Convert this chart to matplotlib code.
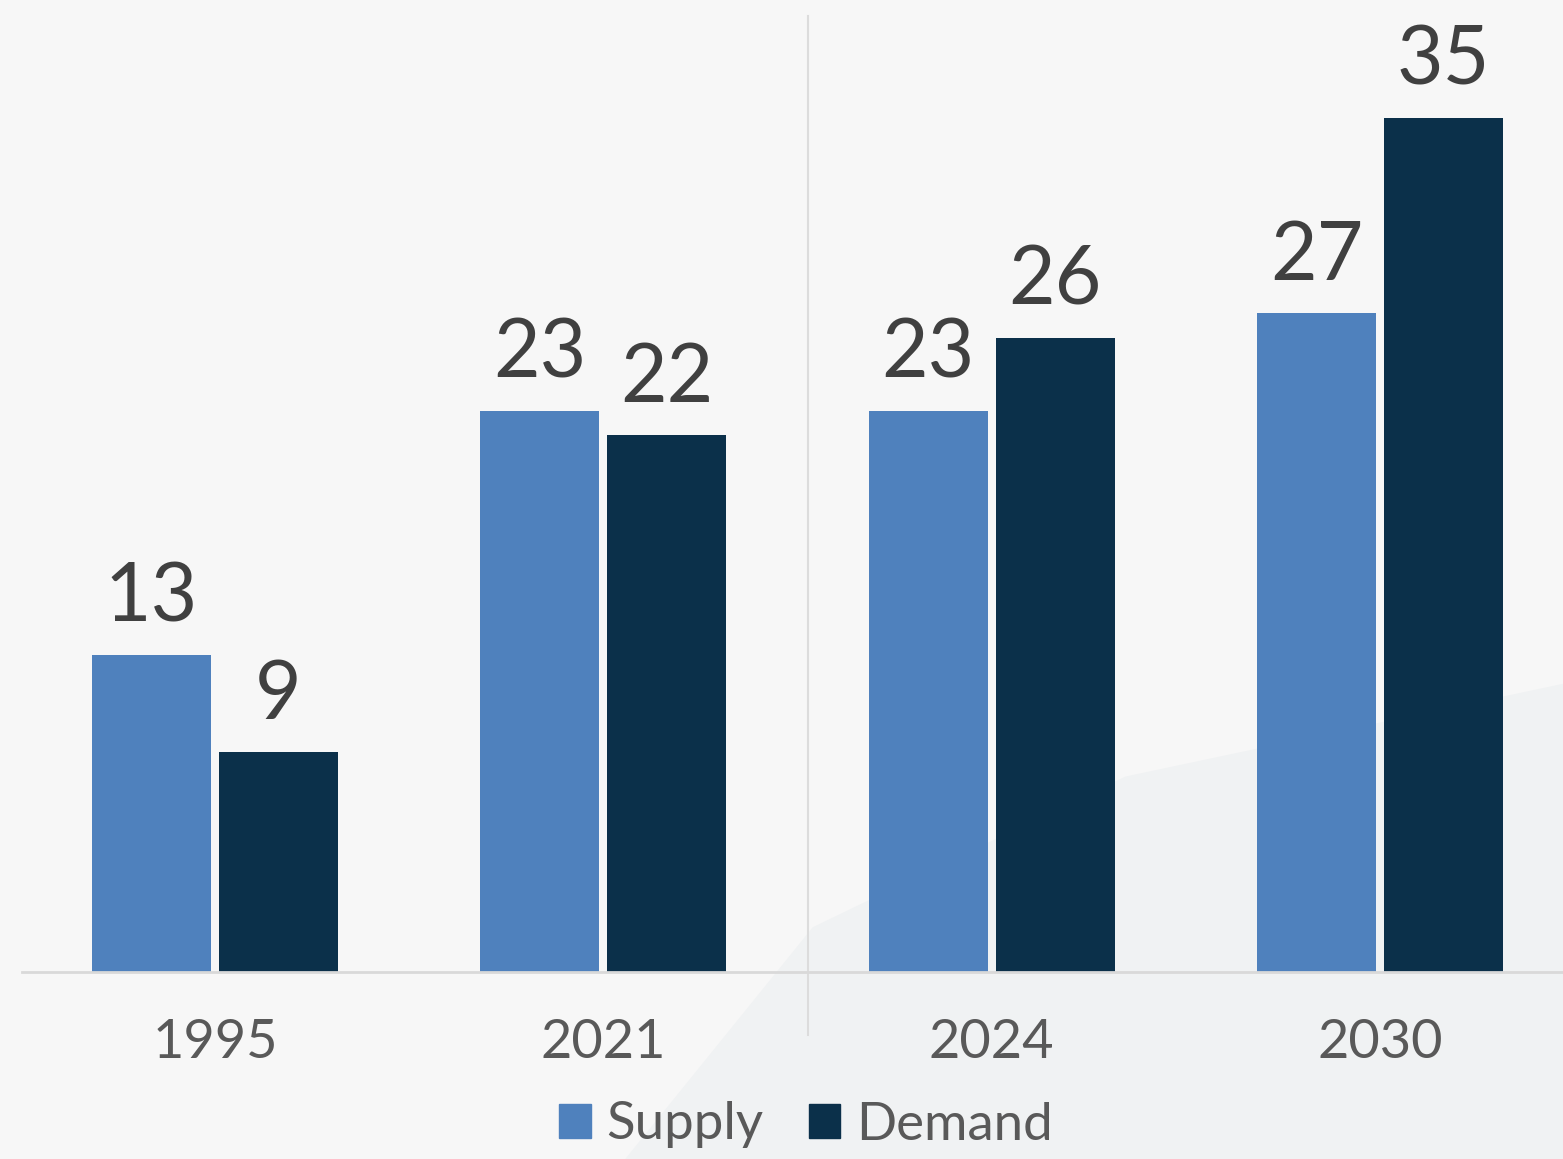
import numpy as np
import matplotlib.pyplot as plt
from matplotlib.patches import Patch, Polygon

# data
years = ["1995", "2021", "2024", "2030"]
supply = [13, 23, 23, 27]
demand = [9, 22, 26, 35]

SUPPLY_C = "#4f81bd"
DEMAND_C = "#0b304a"

plt.rcParams['font.family'] = ['Lato', 'DejaVu Sans']

fig = plt.figure(figsize=(15.63, 11.59), dpi=100)
fig.patch.set_facecolor("#f7f7f7")

# soft background shape in lower right, behind everything
bgax = fig.add_axes([0, 0, 1, 1], zorder=-1)
bgax.set_xlim(0, 1)
bgax.set_ylim(0, 1)
bgax.axis("off")
bgax.add_patch(Polygon([(0.40, 0.0), (1.0, 0.0), (1.0, 0.41), (0.72, 0.33), (0.52, 0.2)],
                       closed=True, facecolor="#f0f2f3", edgecolor="none"))

W, H = 1563, 1159
ax = fig.add_axes([22 / W, (H - 972) / H, (1563 - 22) / W, 972 / H])
ax.set_facecolor("none")

x = np.arange(len(years))
bw = 0.306
off = 0.1635
b1 = ax.bar(x - off, supply, bw, color=SUPPLY_C, label="Supply", zorder=2)
b2 = ax.bar(x + off, demand, bw, color=DEMAND_C, label="Demand", zorder=2)

for bars in (b1, b2):
    for r in bars:
        ax.text(r.get_x() + r.get_width() / 2, r.get_height() + 0.8,
                f"{r.get_height():.0f}", ha="center", va="bottom",
                fontsize=58, color="#404040")

ax.set_xlim(-0.497, 3.471)
ax.set_ylim(0, 972 / 24.4)

for s in ["top", "right", "left"]:
    ax.spines[s].set_visible(False)
ax.spines["bottom"].set_color("#d9d9d9")
ax.spines["bottom"].set_linewidth(2)
ax.set_yticks([])
ax.set_xticks(x)
ax.set_xticklabels(years, fontsize=39, color="#595959")
ax.tick_params(axis="x", length=0, pad=33)

# divider between history and outlook
ax.plot([1.526, 1.526], [-2.6, 39.2], color="#dcdcdc", lw=1.5,
        clip_on=False, zorder=1)

handles = [Patch(color=SUPPLY_C, label="Supply"), Patch(color=DEMAND_C, label="Demand")]
fig.legend(handles=handles, loc="center", bbox_to_anchor=(806 / W, (H - 1125) / H),
           ncol=2, frameon=False, prop={"size": 38},
           labelcolor="#595959",
           handlelength=0.6, handleheight=0.6, handletextpad=0.3,
           columnspacing=0.85, borderpad=0)

fig.savefig("out.png", dpi=100, facecolor=fig.get_facecolor())
